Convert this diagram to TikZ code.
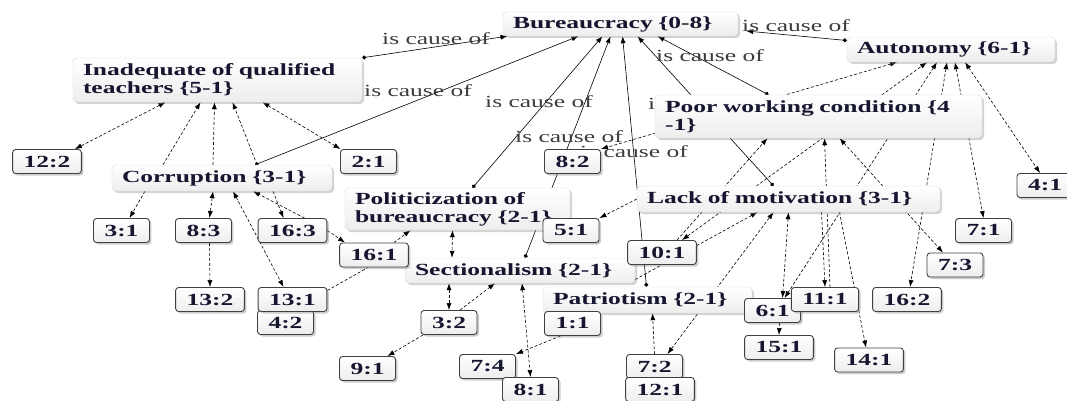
\documentclass[tikz,border=0pt]{standalone}
\usepackage{fontspec}
\setmainfont{Liberation Serif}[FakeStretch=1.5]
\usepackage{tikz}
\usetikzlibrary{arrows.meta,shadows}
\definecolor{nodeink}{RGB}{22,22,48}
\definecolor{labelink}{RGB}{60,60,60}
\pgfdeclarelayer{back}
\pgfsetlayers{back,main}

\begin{document}
\begin{tikzpicture}[x=1pt,y=-1pt,
		box/.style={rounded corners=4pt, draw=gray!30, top color=white, bottom color=gray!14,
			drop shadow={shadow xshift=2pt,shadow yshift=-2pt,opacity=.35},
			font=\fontsize{17}{18}\selectfont\bfseries, text=nodeink, align=left, inner xsep=10pt, inner ysep=2pt},
		num/.style={rounded corners=3pt, draw=black!75, line width=.9pt, top color=white, bottom color=gray!14,
			drop shadow={shadow xshift=2pt,shadow yshift=-2pt,opacity=.4},
			font=\fontsize{17}{18}\selectfont\bfseries, text=nodeink, inner xsep=11pt, inner ysep=2pt, minimum height=24pt},
		cause/.style={line width=.6pt, {Circle[length=4pt]}-{Latex[length=7pt,width=5pt]}},
		dep/.style={line width=.6pt, densely dashed, -{Latex[length=7pt,width=5pt]}},
		dep2/.style={dep, {Latex[length=7pt,width=5pt]}-{Latex[length=7pt,width=5pt]}},
		causelabel/.style={font=\fontsize{17}{18}\selectfont, text=labelink, inner sep=0pt}]
	\useasboundingbox (0,0) rectangle (1067,401);

	\node[box, text width=215pt, minimum height=24pt] (bur) at (620.5,24) {Bureaucracy \{0-8\}};
	\node[box, text width=188pt, minimum height=25pt] (aut) at (951,49.5) {Autonomy \{6-1\}};
	\node[box, text width=269pt, minimum height=44pt] (inad) at (217.5,80) {Inadequate of qualified\\teachers \{5-1\}};
	\node[box, text width=200pt, minimum height=26pt] (corr) at (222,178) {Corruption \{3-1\}};
	\node[box, text width=307pt, minimum height=43pt] (poor) at (818.5,116.5) {Poor working condition \{4\\-1\}};
	\node[box, text width=283pt, minimum height=26pt] (lack) at (788.5,199) {Lack of motivation \{3-1\}};
	\node[box, text width=205pt, minimum height=42pt] (pol) at (457.5,209) {Politicization of\\bureaucracy \{2-1\}};
	\node[box, text width=210pt, minimum height=25pt] (sect) at (520,270.5) {Sectionalism \{2-1\}};
	\node[box, text width=189pt, minimum height=26pt] (pat) at (647.5,300) {Patriotism \{2-1\}};

	\node[num] (n122) at (47,161.5) {12:2};
	\node[num] (n21) at (368.5,161.5) {2:1};
	\node[num] (n82) at (572.5,161.5) {8:2};
	\node[num] (n31) at (121.5,230.5) {3:1};
	\node[num] (n83) at (203.5,230.5) {8:3};
	\node[num] (n163) at (292.5,230.5) {16:3};
	\node[num] (n51) at (571,230.5) {5:1};
	\node[num] (n41) at (1045,185.5) {4:1};
	\node[num] (n71) at (983.5,230.5) {7:1};
	\node[num] (n161) at (374,255) {16:1};
	\node[num] (n101) at (662,252.5) {10:1};
	\node[num] (n73) at (955,265) {7:3};
	\node[num] (n132) at (210,299.5) {13:2};
	\node[num] (n42) at (285.5,322.5) {4:2};
	\node[num] (n131) at (292.5,299.5) {13:1};
	\node[num] (n61) at (772.5,310.5) {6:1};
	\node[num] (n111) at (825,299.5) {11:1};
	\node[num] (n162) at (907,299.5) {16:2};
	\node[num] (n32) at (449,322.5) {3:2};
	\node[num] (n11) at (572.5,323.5) {1:1};
	\node[num] (n151) at (779,347.5) {15:1};
	\node[num] (n141) at (869,360) {14:1};
	\node[num] (n91) at (367.5,368.5) {9:1};
	\node[num] (n74) at (487.5,366.5) {7:4};
	\node[num] (n72) at (654.5,366.5) {7:2};
	\node[num] (n81) at (530.5,389.5) {8:1};
	\node[num] (n121) at (660,389.5) {12:1};

	\begin{pgfonlayer}{back}
		\draw[cause] (inad.north east) -- ([xshift=-113pt]bur.south);
		\draw[cause] ([xshift=33pt]corr.north) -- ([xshift=-42pt]bur.south);
		\draw[cause] ([xshift=15pt]pol.north) -- ([xshift=-18pt]bur.south);
		\draw[cause] ([xshift=5pt]sect.north) -- ([xshift=-10pt]bur.south);
		\draw[cause] ([xshift=-1pt]pat.north) -- ([xshift=2pt]bur.south);
		\draw[cause] ([xshift=-15pt]lack.north) -- ([xshift=17pt]bur.south);
		\draw[cause] ([xshift=-50pt]poor.north) -- ([xshift=37pt]bur.south);
		\draw[cause] ([yshift=9pt]aut.west) -- ([xshift=8pt,yshift=-7pt]bur.east);

		\node[causelabel] (c1) at (436,39) {is cause of};
		\node[causelabel] (c2) at (418,91) {is cause of};
		\node[causelabel] (c3) at (539,102) {is cause of};
		\node[causelabel] (c4) at (569,137) {is cause of};
		\node[causelabel] (c5) at (710,56) {is cause of};
		\node[causelabel] (c6) at (796,26) {is cause of};
		\node[causelabel] (c7) at (702,104) {is cause of};
		\node[causelabel] (c8) at (634,152) {is cause of};

		\draw[dep2] ([xshift=-52pt]inad.south) -- ([xshift=28pt]n122.north);
		\draw[dep2] ([xshift=45pt]inad.south) -- ([xshift=-28pt]n21.north);
		\draw[dep] ([xshift=-59pt]corr.north) -- ([xshift=-17pt]inad.south);
		\draw[dep] ([xshift=-9pt]corr.north) -- ([xshift=-3pt]inad.south);
		\draw[dep] ([xshift=35pt]corr.north) -- ([xshift=15pt]inad.south);
		\draw[dep] ([xshift=-77pt]corr.south) -- ([xshift=8pt]n31.north);
		\draw[dep2] ([xshift=-9pt]corr.south) -- ([xshift=6pt]n83.north);
		\draw[dep] ([xshift=6pt]n83.south) -- (n132.north);
		\draw[dep2] ([xshift=11pt]corr.south) -- ([xshift=-9pt]n131.north);
		\draw[dep] ([xshift=51pt]corr.south) -- ([xshift=-9pt]n163.north);
		\draw[dep] ([xshift=12pt]n163.north) -- ([xshift=31pt]corr.south);
		\draw[dep] (n163.east) -- ([xshift=-29pt]n161.north);
		\draw[dep] ([xshift=20pt]n161.north) -- ([xshift=-47pt]pol.south);
		\draw[dep, -] ([yshift=9pt]n131.east) -- ([xshift=-6pt]n161.south);
		\draw[dep2] ([xshift=-5pt]pol.south) -- ([xshift=-68pt]sect.north);
		\draw[dep2] ([xshift=-71pt]sect.south) -- (n32.north);
		\draw[dep] ([xshift=11pt]n32.north) -- ([xshift=-25pt]sect.south);
		\draw[dep] ([xshift=-26pt]n32.south) -- ([xshift=20pt]n91.north);
		\draw[dep2] ([xshift=2pt]sect.south) -- (n81.north);
		\draw[dep] ([xshift=-12pt]n11.south) -- (n74.north east);
		\draw[dep] (n72.north) -- ([xshift=5pt]pat.south);
		\draw[dep2] ([xshift=13pt]n72.north) -- ([xshift=-15pt]lack.south);
		\draw[dep] (lack.west) -- (n51.north east);
		\draw[dep2] ([xshift=-54pt]aut.south) -- (n82.north east);
		\draw[dep2] ([xshift=20pt]n101.north) -- ([xshift=-24pt]aut.south);
		\draw[dep] ([xshift=15pt]n101.north) -- ([xshift=-51pt]poor.south);
		\draw[dep] ([yshift=-9pt]sect.east) -- ([xshift=-31pt]lack.south);
		\draw[dep2] (lack.south) -- ([xshift=10pt]n61.north);
		\draw[dep2] ([xshift=-14pt]aut.south) -- ([xshift=12pt]n61.north);
		\draw[dep] ([xshift=33pt]lack.south) -- (n111.north);
		\draw[dep] ([xshift=5pt]n111.north) -- ([xshift=6pt]poor.south);
		\draw[dep] ([xshift=51pt]lack.south) -- ([xshift=-3pt]n141.north);
		\draw[dep2] ([xshift=21pt]poor.south) -- ([xshift=-12pt]n73.north);
		\draw[dep2] ([xshift=-4pt]aut.south) -- ([xshift=3pt]n162.north);
		\draw[dep2] ([xshift=4pt]aut.south) -- (n71.north);
		\draw[dep2] ([xshift=14pt]aut.south) -- ([xshift=-5pt]n41.north);
		\draw[dep] ([xshift=7pt]n61.south) -- (n151.north);
	\end{pgfonlayer}
\end{tikzpicture}
\end{document}
